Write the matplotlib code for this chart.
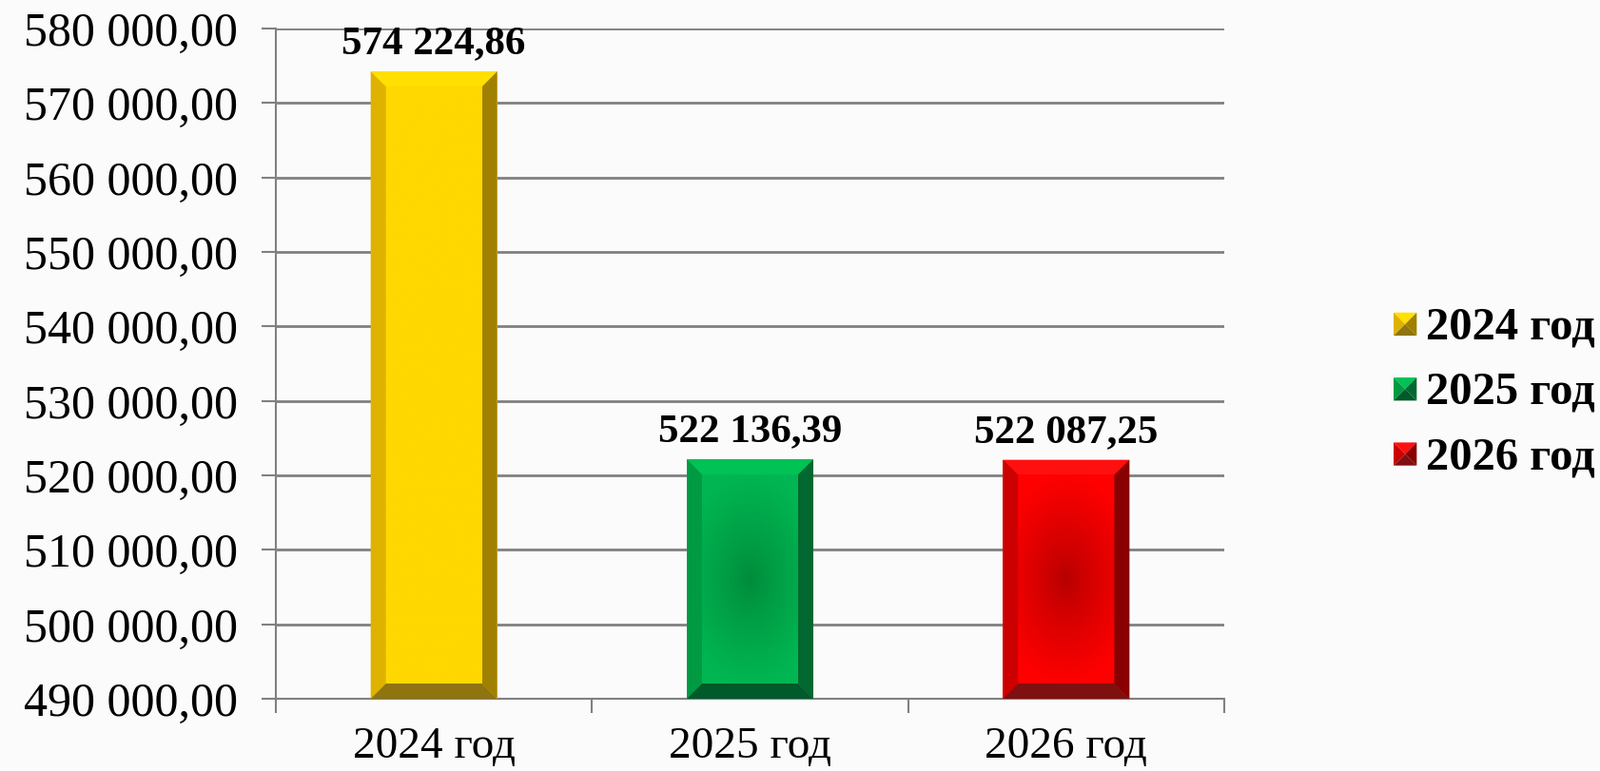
import numpy as np
import matplotlib
matplotlib.use("Agg")
import matplotlib.pyplot as plt
from matplotlib.patches import Polygon, Patch
from matplotlib.legend_handler import HandlerBase
from matplotlib.ticker import FuncFormatter, MultipleLocator

# data
years = ['2024 год', '2025 год', '2026 год']
values = [574224.86, 522136.39, 522087.25]
value_labels = ['574 224,86', '522 136,39', '522 087,25']

# face (edge, centre), bevels (top, left, right, bottom)
face_cols = [('#ffd800', '#ffd800'), ('#00b652', '#008a3a'), ('#ff0000', '#b40000')]
bevel_cols = [('#ffe000', '#e0b200', '#a08000', '#8f7410'),
              ('#00c255', '#009a42', '#006830', '#005a2a'),
              ('#ff1010', '#cc0000', '#880000', '#801010')]

serif = ['Liberation Serif', 'DejaVu Serif']


class PyramidHandler(HandlerBase):
    def create_artists(self, legend, orig_handle, xdescent, ydescent,
                       width, height, fontsize, trans):
        top, left, right, bottom = orig_handle.pyr
        x0, y0 = -xdescent, -ydescent
        s = min(width, height)
        x1, y1 = x0 + s, y0 + s
        cx, cy = (x0 + x1) / 2, (y0 + y1) / 2
        tris = [([(x0, y1), (x1, y1), (cx, cy)], top),
                ([(x0, y0), (x0, y1), (cx, cy)], left),
                ([(x1, y0), (x1, y1), (cx, cy)], right),
                ([(x0, y0), (x1, y0), (cx, cy)], bottom)]
        return [Polygon(p, closed=True, facecolor=c, edgecolor='none', transform=trans)
                for p, c in tris]


fig = plt.figure(figsize=(16.82, 8.11), dpi=100, facecolor='#fbfbfb')
ax = fig.add_axes([0.1724, 0.0937, 0.5928, 0.8693])
ax.set_facecolor('none')

ymin, ymax = 490000, 580000
ax.set_xlim(-0.5, 2.5)
ax.set_ylim(ymin, ymax)

x = np.arange(len(years))
bars = ax.bar(x, [v - ymin for v in values], bottom=ymin, width=0.4,
              color=[c[0] for c in face_cols], zorder=3)

# bevel + radial face
bev = 16  # px
to_disp = ax.transData
to_data = ax.transData.inverted()
for i, b in enumerate(bars):
    bx0, by0 = b.get_x(), b.get_y()
    bx1, by1 = bx0 + b.get_width(), by0 + b.get_height()
    (px0, py0), (px1, py1) = to_disp.transform([(bx0, by0), (bx1, by1)])
    ix0, iy0 = px0 + bev, py0 + bev
    ix1, iy1 = px1 - bev, py1 - bev
    polys = [[(px0, py1), (px1, py1), (ix1, iy1), (ix0, iy1)],
             [(px0, py0), (px0, py1), (ix0, iy1), (ix0, iy0)],
             [(px1, py0), (px1, py1), (ix1, iy1), (ix1, iy0)],
             [(px0, py0), (px1, py0), (ix1, iy0), (ix0, iy0)]]
    for p, c in zip(polys, bevel_cols[i]):
        ax.add_patch(Polygon(to_data.transform(p), closed=True, facecolor=c,
                             edgecolor='none', zorder=4))
    (dx0, dy0), (dx1, dy1) = to_data.transform([(ix0, iy0), (ix1, iy1)])
    edge = np.array(matplotlib.colors.to_rgb(face_cols[i][0]))
    cen = np.array(matplotlib.colors.to_rgb(face_cols[i][1]))
    w, h = int(ix1 - ix0), int(iy1 - iy0)
    gx, gy = np.meshgrid(np.linspace(-1, 1, w), np.linspace(-1, 1, h))
    r = np.sqrt(gx ** 2 + (gy * h / w) ** 2 * 0.45)
    t = (np.clip(r / 1.5, 0, 1) ** 0.8)[..., None]
    img = cen * (1 - t) + edge * t
    ax.imshow(img, extent=(dx0, dx1, dy0, dy1), aspect='auto',
              interpolation='bilinear', zorder=4)

ax.set_xlim(-0.5, 2.5)
ax.set_ylim(ymin, ymax)

for xi, v, lab in zip(x, values, value_labels):
    ax.annotate(lab, (xi, v), xytext=(0, 7), textcoords='offset points',
                ha='center', va='bottom', fontsize=31, fontweight='bold',
                family=serif, zorder=5)

# axes styling
ax.yaxis.set_major_locator(MultipleLocator(10000))
ax.yaxis.set_major_formatter(FuncFormatter(
    lambda v, p: '{:,.2f}'.format(v).replace(',', ' ').replace('.', ',')))
ax.grid(axis='y', color='#808080', linewidth=2, zorder=0)
ax.set_axisbelow(True)
for s in ['top', 'right']:
    ax.spines[s].set_visible(False)
for s in ['left', 'bottom']:
    ax.spines[s].set_color('#808080')
    ax.spines[s].set_linewidth(1.5)
ax.tick_params(axis='y', length=11, width=1.5, color='#808080', pad=18,
               labelsize=36)
ax.set_xticks(x)
ax.set_xticklabels(years)
ax.set_xticks([-0.5, 0.5, 1.5, 2.5], minor=True)
ax.tick_params(axis='x', which='major', length=0, pad=21, labelsize=34)
ax.tick_params(axis='x', which='minor', length=11, width=1.5, color='#808080')
for lab in ax.get_xticklabels() + ax.get_yticklabels():
    lab.set_family(serif)

handles = []
for c in bevel_cols:
    p = Patch()
    p.pyr = c
    handles.append(p)
leg = fig.legend(handles, years, loc='center left', bbox_to_anchor=(0.871, 0.491),
                 handler_map={Patch: PyramidHandler()}, frameon=False,
                 borderpad=0, borderaxespad=0,
                 prop={'family': serif, 'weight': 'bold', 'size': 35},
                 handlelength=0.5, handleheight=0.5, handletextpad=0.2,
                 labelspacing=0.5)

fig.savefig('out.png', dpi=100, facecolor=fig.get_facecolor())
